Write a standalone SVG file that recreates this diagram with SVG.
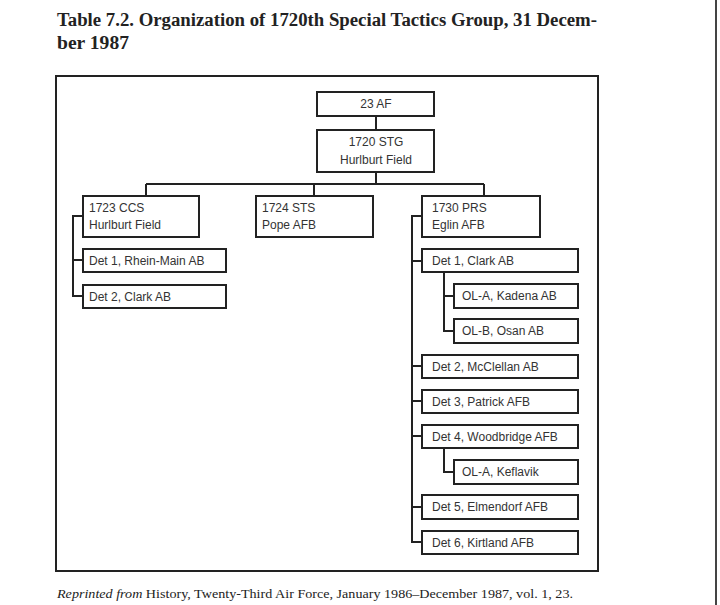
<svg xmlns="http://www.w3.org/2000/svg" width="720" height="605" viewBox="0 0 720 605">
<style>
.box{fill:#fff;stroke:#222;stroke-width:2}
.t{font-family:"Liberation Sans","Open Sans",sans-serif;font-size:12px;fill:#333}
.c{text-anchor:middle}
.ln{fill:none;stroke:#222;stroke-width:2}
.title{font-family:"Liberation Serif",serif;font-weight:bold;font-size:18px;fill:#222}
.foot{font-family:"Liberation Serif",serif;font-size:13px;fill:#222}
</style>
<rect width="720" height="605" fill="#fff"/>
<line x1="716" y1="0" x2="716" y2="605" stroke="#444" stroke-width="2"/>
<text class="title" x="57" y="26" textLength="540" lengthAdjust="spacingAndGlyphs">Table 7.2. Organization of 1720th Special Tactics Group, 31 Decem-</text>
<text class="title" x="57" y="49" textLength="72" lengthAdjust="spacingAndGlyphs">ber 1987</text>
<rect x="56" y="76" width="542" height="495" fill="none" stroke="#222" stroke-width="2"/>
<g id="connectors">
<path class="ln" d="M376 116V130M376 172V184M146 184H484M146 184V196M314 184V196M484 184V196"/>
<path class="ln" d="M83 216H73V296H83M73 260H83"/>
<path class="ln" d="M422 216H412V542H422M412 261H422M412 366H422M412 401H422M412 436H422M412 507H422"/>
<path class="ln" d="M444 272V331H454M444 296H454"/>
<path class="ln" d="M444 448V472H454"/>
</g>
<g id="n23af"><rect class="box" x="317" y="92" width="117" height="24"/><text class="t c" x="376" y="108">23 AF</text></g>
<g id="n1720"><rect class="box" x="317" y="130" width="117" height="42"/><text class="t c" x="376" y="146">1720 STG</text><text class="t c" x="376" y="164">Hurlburt Field</text></g>
<g id="n1723"><rect class="box" x="83" y="196" width="116" height="41"/><text class="t" x="89" y="212">1723 CCS</text><text class="t" x="89" y="229">Hurlburt Field</text></g>
<g id="n1724"><rect class="box" x="256" y="196" width="117" height="41"/><text class="t" x="262" y="212">1724 STS</text><text class="t" x="262" y="229">Pope AFB</text></g>
<g id="n1730"><rect class="box" x="422" y="196" width="118" height="41"/><text class="t" x="432" y="212">1730 PRS</text><text class="t" x="432" y="229">Eglin AFB</text></g>
<g id="rm"><rect class="box" x="83" y="249" width="143" height="23"/><text class="t" x="89" y="265">Det 1, Rhein-Main AB</text></g>
<g id="clark2"><rect class="box" x="83" y="285" width="143" height="23"/><text class="t" x="89" y="301">Det 2, Clark AB</text></g>
<g id="clark1"><rect class="box" x="422" y="249" width="156" height="23"/><text class="t" x="432" y="265">Det 1, Clark AB</text></g>
<g id="kadena"><rect class="box" x="454" y="284" width="124" height="24"/><text class="t" x="462" y="300">OL-A, Kadena AB</text></g>
<g id="osan"><rect class="box" x="454" y="319" width="124" height="24"/><text class="t" x="462" y="335">OL-B, Osan AB</text></g>
<g id="mcclellan"><rect class="box" x="422" y="355" width="156" height="23"/><text class="t" x="432" y="371">Det 2, McClellan AB</text></g>
<g id="patrick"><rect class="box" x="422" y="390" width="156" height="23"/><text class="t" x="432" y="406">Det 3, Patrick AFB</text></g>
<g id="woodbridge"><rect class="box" x="422" y="425" width="156" height="23"/><text class="t" x="432" y="441">Det 4, Woodbridge AFB</text></g>
<g id="keflavik"><rect class="box" x="454" y="460" width="124" height="24"/><text class="t" x="462" y="476">OL-A, Keflavik</text></g>
<g id="elmendorf"><rect class="box" x="422" y="495" width="156" height="24"/><text class="t" x="432" y="511">Det 5, Elmendorf AFB</text></g>
<g id="kirtland"><rect class="box" x="422" y="531" width="156" height="23"/><text class="t" x="432" y="547">Det 6, Kirtland AFB</text></g>
<text class="foot" x="57" y="598" textLength="516" lengthAdjust="spacingAndGlyphs"><tspan font-style="italic">Reprinted from</tspan> History, Twenty-Third Air Force, January 1986–December 1987, vol. 1, 23.</text>
</svg>
